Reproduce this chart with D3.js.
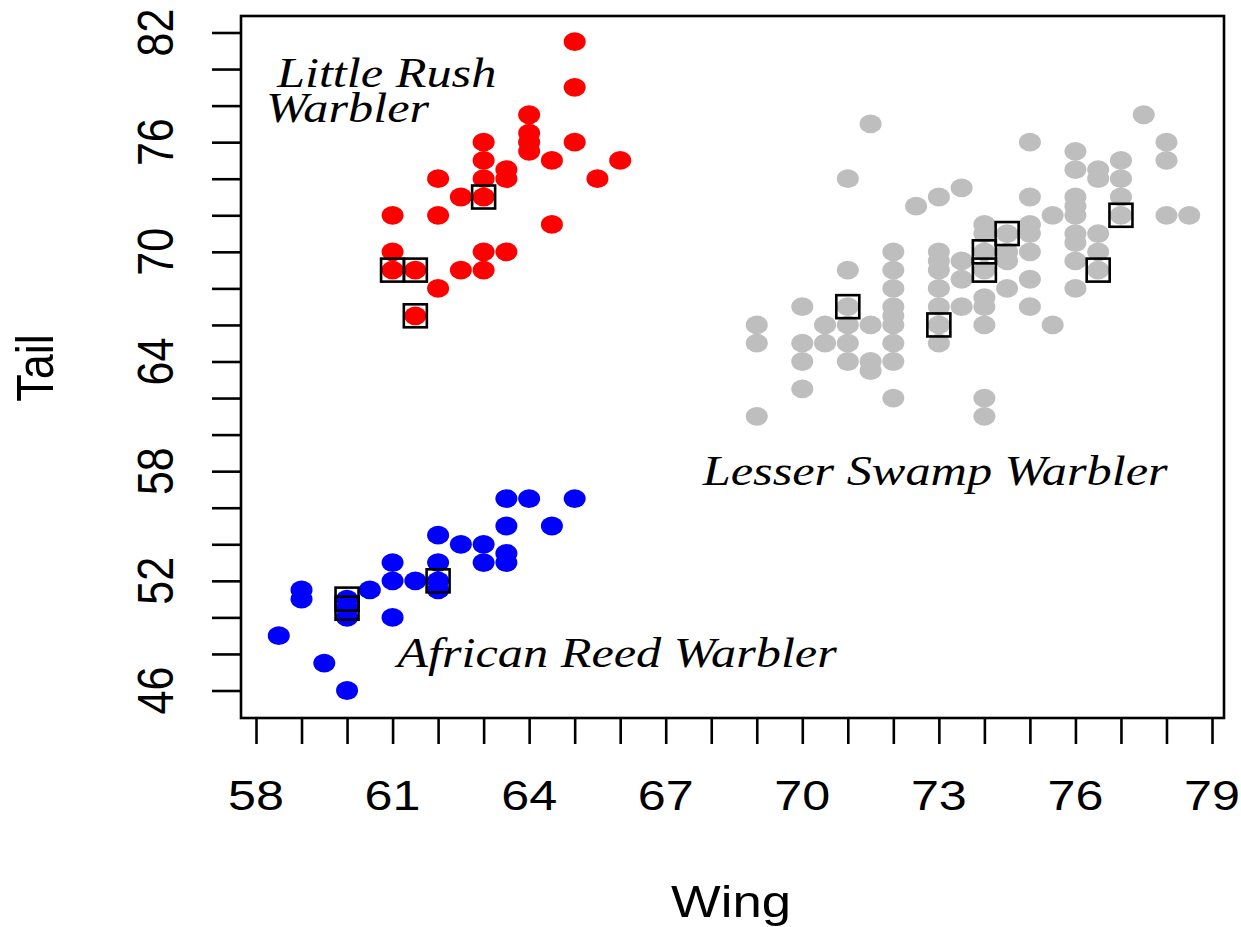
<!DOCTYPE html>
<html>
<head>
<meta charset="utf-8">
<script src="https://cdn.jsdelivr.net/npm/d3@7/dist/d3.min.js"></script>
<style>
html,body{margin:0;padding:0;background:#fff;}
svg{display:block;}
</style>
</head>
<body>
<svg id="chart" width="1241" height="927"></svg>
<script>
// ---- data ----
const xTickLabels = [58, 61, 64, 67, 70, 73, 76, 79];
const xMinorTicks = d3.range(58, 80, 1);
const yTickLabels = [46, 52, 58, 64, 70, 76, 82];
const yMinorTicks = d3.range(46, 83, 2);

// Little Rush Warbler (red)
const rushWing = [65, 65, 64, 64, 64, 64, 63, 63, 63, 63.5, 63.5, 65, 64.5, 66, 65.5, 62, 62.5, 63, 61, 62, 64.5, 61, 63, 63.5, 61, 61.5, 62.5, 63, 62, 61.5];
const rushTail = [81.5, 79, 77.5, 76.5, 76, 75.5, 76, 75, 74, 74.5, 74, 76, 75, 75, 74, 74, 73, 73, 72, 72, 71.5, 70, 70, 70, 69, 69, 69, 69, 68, 66.5];

// African Reed Warbler (blue)
const reedWing = [63.5, 64, 65, 63.5, 64.5, 62, 62.5, 63, 63.5, 63, 63.5, 61, 61, 62, 62, 62, 61.5, 60.5, 59, 59, 60, 60, 60, 61, 58.5, 59.5, 60];
const reedTail = [56.5, 56.5, 56.5, 55, 55, 54.5, 54, 54, 53.5, 53, 53, 53, 52, 53, 52, 51.5, 52, 51.5, 51.5, 51, 51, 50.5, 50, 50, 49, 47.5, 46];

// Lesser Swamp Warbler (gray)
const swampWing = [
  69, 69, 69,
  70, 70, 70, 70,
  70.5, 70.5,
  71, 71, 71, 71, 71, 71,
  71.5, 71.5, 71.5, 71.5,
  72, 72, 72, 72, 72, 72, 72, 72, 72,
  72.5,
  73, 73, 73, 73, 73, 73, 73, 73,
  73.5, 73.5, 73.5, 73.5,
  74, 74, 74, 74, 74, 74, 74, 74, 74,
  74.5, 74.5, 74.5, 74.5,
  75, 75, 75, 75, 75, 75, 75,
  75.5, 75.5,
  76, 76, 76, 76, 76, 76, 76, 76, 76,
  76.5, 76.5, 76.5, 76.5, 76.5,
  77, 77, 77, 77,
  77.5,
  78, 78, 78,
  78.5
];
const swampTail = [
  66, 65, 61,
  67, 65, 64, 62.5,
  66, 65,
  74, 69, 67, 66, 65, 64,
  77, 66, 64, 63.5,
  70, 69, 68, 67, 66.5, 66, 65, 64, 62,
  72.5,
  73, 70, 69.5, 69, 68, 67, 66, 65,
  73.5, 69.5, 68.5, 67,
  71.5, 71, 70, 69, 67.5, 67, 66, 62, 61,
  71, 70, 69.5, 68,
  76, 73, 71.5, 71, 70, 68.5, 67,
  72, 66,
  75.5, 74.5, 73, 72.5, 72, 71, 70.5, 69.5, 68,
  74.5, 74, 71, 70, 69,
  75, 74, 73, 72,
  77.5,
  76, 75, 72,
  72
];

// highlighted specimens (open squares)
const markWing = [63, 61, 61.5, 61.5, 62, 60, 60, 71, 73, 74, 74, 74.5, 76.5, 77];
const markTail = [73, 69, 69, 66.5, 52, 51, 50.5, 67, 66, 70, 69, 71, 69, 72];

// species labels: each entry is a list of lines
const speciesNames = [["Little Rush", "Warbler"], ["Lesser Swamp Warbler"], ["African Reed Warbler"]];
const labelWing = [58.46, 72.92, 65.93];
const labelTail = [79.0, 57.25, 47.3];
const labelAnchor = ["start", "middle", "middle"];
const lineWingOffset = [[0, -0.24], [0], [0]];

const xTitle = "Wing";
const yTitle = "Tail";

// ---- layout ----
const S = 1.17; // horizontal stretch of the original raster
const box = {left: 241, right: 1224, top: 16, bottom: 718};
const svg = d3.select("#chart");

const x = d3.scaleLinear().domain([58, 79]).range([256, 1212]);
const y = d3.scaleLinear().domain([46, 82]).range([690.5, 32.5]);

// points
const pts = (wing, tail, color) => {
  svg.append("g").selectAll("ellipse")
    .data(wing.map((w, i) => [w, tail[i]]))
    .join("ellipse")
    .attr("cx", d => x(d[0]))
    .attr("cy", d => y(d[1]))
    .attr("rx", 11)
    .attr("ry", 9.4)
    .attr("fill", color);
};
pts(swampWing, swampTail, "#bebebe");
pts(rushWing, rushTail, "#ff0000");
pts(reedWing, reedTail, "#0000ff");

const sq = 23;
svg.append("g").selectAll("rect")
  .data(markWing.map((w, i) => [w, markTail[i]]))
  .join("rect")
  .attr("x", d => x(d[0]) - sq / 2)
  .attr("y", d => y(d[1]) - sq / 2)
  .attr("width", sq)
  .attr("height", sq)
  .attr("fill", "none")
  .attr("stroke", "#000")
  .attr("stroke-width", 2.6);

// box
svg.append("rect")
  .attr("x", box.left).attr("y", box.top)
  .attr("width", box.right - box.left).attr("height", box.bottom - box.top)
  .attr("fill", "none").attr("stroke", "#000").attr("stroke-width", 2.6);

// axes ticks
const gx = svg.append("g").attr("transform", `translate(0,${box.bottom})`)
  .call(d3.axisBottom(x).tickValues(xMinorTicks).tickSize(26).tickSizeOuter(0).tickFormat(""));
gx.select(".domain").remove();
gx.selectAll("line").attr("stroke", "#000").attr("stroke-width", 2.6);

const gy = svg.append("g").attr("transform", `translate(${box.left},0)`)
  .call(d3.axisLeft(y).tickValues(yMinorTicks).tickSize(29).tickSizeOuter(0).tickFormat(""));
gy.select(".domain").remove();
gy.selectAll("line").attr("stroke", "#000").attr("stroke-width", 2.6);

// tick labels
svg.append("g").selectAll("text")
  .data(xTickLabels).join("text")
  .attr("transform", d => `translate(${x(d)},810) scale(${S},1)`)
  .attr("text-anchor", "middle")
  .attr("font-family", "Liberation Sans, Arial, sans-serif")
  .attr("font-size", 43)
  .attr("fill", "#000")
  .text(d => d);

svg.append("g").selectAll("text")
  .data(yTickLabels).join("text")
  .attr("transform", d => `translate(173,${y(d)}) scale(${S},1) rotate(-90)`)
  .attr("text-anchor", "middle")
  .attr("font-family", "Liberation Sans, Arial, sans-serif")
  .attr("font-size", 43)
  .attr("fill", "#000")
  .text(d => d);

// axis titles
svg.append("text")
  .attr("transform", `translate(731,917) scale(${S},1)`)
  .attr("text-anchor", "middle")
  .attr("font-family", "Liberation Sans, Arial, sans-serif")
  .attr("font-size", 45)
  .text(xTitle);

svg.append("text")
  .attr("transform", `translate(53,368) scale(${S},1) rotate(-90)`)
  .attr("text-anchor", "middle")
  .attr("font-family", "Liberation Sans, Arial, sans-serif")
  .attr("font-size", 45)
  .text(yTitle);

// species labels
const unitPx = x(59) - x(58);
const lab = svg.append("g").selectAll("text")
  .data(speciesNames).join("text")
  .attr("transform", (d, i) => `translate(${x(labelWing[i])},${y(labelTail[i])}) scale(${S},1)`)
  .attr("text-anchor", (d, i) => labelAnchor[i])
  .attr("font-family", "Liberation Serif, Times New Roman, serif")
  .attr("font-style", "italic")
  .attr("font-size", 43)
  .attr("fill", "#000");
lab.each(function(lines, i) {
  d3.select(this).selectAll("tspan")
    .data(lines).join("tspan")
    .attr("x", (d, j) => lineWingOffset[i][j] * unitPx / S)
    .attr("y", (d, j) => j * 34.5)
    .text(d => d);
});
</script>
</body>
</html>
